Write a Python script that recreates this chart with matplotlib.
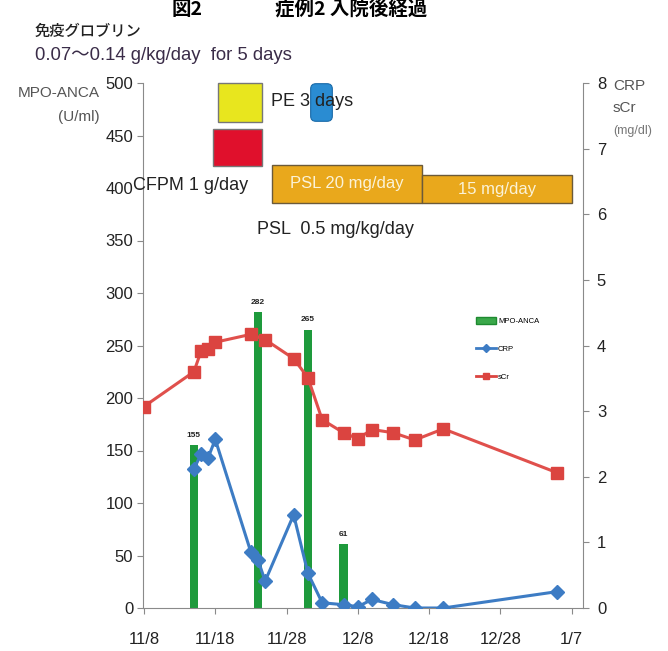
import matplotlib
matplotlib.use("Agg")
import matplotlib.pyplot as plt
import matplotlib.dates as mdates
from matplotlib.patches import Rectangle, FancyBboxPatch, Patch
from matplotlib.lines import Line2D
import pandas as pd

plt.rcParams['font.family'] = ['Liberation Sans', 'Noto Sans CJK JP', 'DejaVu Sans']

# ---------------- data ----------------
anca_dates = ['2012-11-15', '2012-11-24', '2012-12-01', '2012-12-06']
anca_values = [155, 282, 265, 61]

crp_dates = ['2012-11-15', '2012-11-16', '2012-11-17', '2012-11-18', '2012-11-23', '2012-11-24',
             '2012-11-25', '2012-11-29', '2012-12-01', '2012-12-03', '2012-12-06', '2012-12-08',
             '2012-12-10', '2012-12-13', '2012-12-16', '2012-12-20', '2013-01-05']
crp_values = [2.12, 2.34, 2.29, 2.57, 0.85, 0.73, 0.41, 1.42, 0.53, 0.08, 0.05, 0.02,
              0.13, 0.05, 0.0, 0.0, 0.25]

scr_dates = ['2012-11-08', '2012-11-15', '2012-11-16', '2012-11-17', '2012-11-18', '2012-11-23',
             '2012-11-25', '2012-11-29', '2012-12-01', '2012-12-03', '2012-12-06', '2012-12-08',
             '2012-12-10', '2012-12-13', '2012-12-16', '2012-12-20', '2013-01-05']
scr_values = [3.07, 3.60, 3.91, 3.94, 4.05, 4.17, 4.09, 3.80, 3.51, 2.87, 2.67, 2.58,
              2.72, 2.67, 2.56, 2.73, 2.06]

tick_dates = ['2012-11-08', '2012-11-18', '2012-11-28', '2012-12-08', '2012-12-18', '2012-12-28', '2013-01-07']
tick_labels = ['11/8', '11/18', '11/28', '12/8', '12/18', '12/28', '1/7']

left_ticks = [0, 50, 100, 150, 200, 250, 300, 350, 400, 450, 500]
right_ticks = [0, 1, 2, 3, 4, 5, 6, 7, 8]

psl_labels = ['PSL 20 mg/day', '15 mg/day']
psl_starts = ['2012-11-26', '2012-12-17']
psl_ends = ['2012-12-17', '2013-01-07']

# ---------------- figure ----------------
W, H = 668, 651
fig = plt.figure(figsize=(W / 100, H / 100), dpi=100)
fig.patch.set_facecolor('white')


def fx(px):
    return px / W


def fy(py):
    return 1 - py / H


ax = fig.add_axes([fx(143), fy(608), (583 - 143) / W, (608 - 83) / H])
ax.patch.set_alpha(0)

axis_col = '#8a8a8a'
green = '#1e9a3c'
blue = '#3d7cc4'
red = '#db4440'

ad = pd.to_datetime(anca_dates)
ax.bar(ad, anca_values, width=1.15, color=green, edgecolor='none', zorder=2)
for d, v in zip(ad, anca_values):
    ax.text(d, v + 6, str(v), ha='center', va='bottom', fontsize=6, fontweight='bold', color='#222')

x0 = mdates.date2num(pd.Timestamp('2012-11-08'))
ax.set_xlim(x0 - 0.14, x0 + 61.6)
ax.set_ylim(0, 500)
ax.set_yticks(left_ticks)
ax.set_xticks(pd.to_datetime(tick_dates))
ax.set_xticklabels(tick_labels)

for s in ['top', 'right']:
    ax.spines[s].set_visible(False)
for s in ['left', 'bottom']:
    ax.spines[s].set_color(axis_col)
ax.tick_params(axis='y', colors=axis_col, labelcolor='#222', labelsize=12, length=4, direction='out', pad=3)
ax.tick_params(axis='x', colors=axis_col, labelcolor='#222', labelsize=12, length=4, direction='out', pad=13)

# PSL tapering boxes (in data coordinates)
psl_tops = [422, 412]
for lab, s, e, top in zip(psl_labels, psl_starts, psl_ends, psl_tops):
    xs = mdates.date2num(pd.Timestamp(s))
    xe = mdates.date2num(pd.Timestamp(e))
    ax.add_patch(Rectangle((xs, 386), xe - xs, top - 386, facecolor='#e9a81c',
                           edgecolor='#6b5a3a', lw=1.0, zorder=3, clip_on=False))
    ax.text((xs + xe) / 2, (386 + top) / 2, lab, ha='center', va='center',
            color='#fbf3d8', fontsize=12, zorder=4)

ax2 = ax.twinx()
ax2.set_ylim(0, 8)
ax2.set_yticks(right_ticks)
for s in ['top', 'left', 'bottom']:
    ax2.spines[s].set_visible(False)
ax2.spines['right'].set_color(axis_col)
ax2.tick_params(axis='y', colors=axis_col, labelcolor='#222', labelsize=12, length=4, direction='out', pad=6)

ax2.plot(pd.to_datetime(crp_dates), crp_values, color=blue, lw=2.2, marker='D', ms=7.5,
         markerfacecolor=blue, markeredgecolor=blue, zorder=5)
ax2.plot(pd.to_datetime(scr_dates), scr_values, color='#e0504c', lw=2.2, marker='s', ms=8.5,
         markerfacecolor=red, markeredgecolor=red, zorder=5)

handles = [Patch(facecolor='#3aa84a', edgecolor='#1e8a30'),
           Line2D([], [], color=blue, lw=2, marker='D', ms=4),
           Line2D([], [], color=red, lw=2, marker='s', ms=5)]
ax2.legend(handles, ['MPO-ANCA', 'CRP', 'sCr'], loc='upper left',
           bbox_to_anchor=(fx(472), fy(313)), bbox_transform=fig.transFigure,
           frameon=False, fontsize=5.5, handlelength=2.6, handleheight=1.0, labelspacing=2.6,
           borderpad=0, handletextpad=0.3)

# ---------------- annotations ----------------
fig.text(fx(172), fy(19), '図2', fontsize=14, fontweight='bold', va='bottom', ha='left',
         family=['Noto Sans CJK JP'])
fig.text(fx(275), fy(19), '症例2 入院後経過', fontsize=14, fontweight='bold', va='bottom', ha='left',
         family=['Noto Sans CJK JP'])
fig.text(fx(35), fy(31), '免疫グロブリン', fontsize=11, va='center', ha='left', fontweight='medium',
         family=['Noto Sans CJK JP'], color='#222')
fig.text(fx(35), fy(56), '0.07～0.14 g/kg/day  for 5 days', fontsize=13.3, va='center', ha='left',
         color='#3a2c48')

fig.text(fx(100), fy(93), 'MPO-ANCA', fontsize=11, ha='right', va='center', color='#555')
fig.text(fx(100), fy(117), '(U/ml)', fontsize=11, ha='right', va='center', color='#555')
fig.text(fx(613), fy(86), 'CRP', fontsize=11, ha='left', va='center', color='#555')
fig.text(fx(613), fy(108), 'sCr', fontsize=11, ha='left', va='center', color='#555')
fig.text(fx(613), fy(131), '(mg/dl)', fontsize=9, ha='left', va='center', color='#777')

# treatment boxes
fig.patches.append(Rectangle((fx(218), fy(122)), (262 - 218) / W, (122 - 83) / H,
                             transform=fig.transFigure, facecolor='#e8e61e', edgecolor='#777', lw=1))
fig.patches.append(Rectangle((fx(213), fy(166)), (262 - 213) / W, (166 - 129) / H,
                             transform=fig.transFigure, facecolor='#e0102c', edgecolor='#777', lw=1))
fig.patches.append(FancyBboxPatch((fx(312), fy(120)), (331 - 312) / W, (120 - 85) / H,
                                  boxstyle='round,pad=0.002,rounding_size=0.008',
                                  transform=fig.transFigure, facecolor='#2a8cd2', edgecolor='#1a6aa8', lw=0.8))

fig.text(fx(271), fy(102), 'PE 3 days', fontsize=13, ha='left', va='center', color='#222')
fig.text(fx(133), fy(186), 'CFPM 1 g/day', fontsize=13, ha='left', va='center', color='#222')
fig.text(fx(257), fy(229), 'PSL  0.5 mg/kg/day', fontsize=13, ha='left', va='center', color='#222')

fig.savefig('out.png', dpi=100)
